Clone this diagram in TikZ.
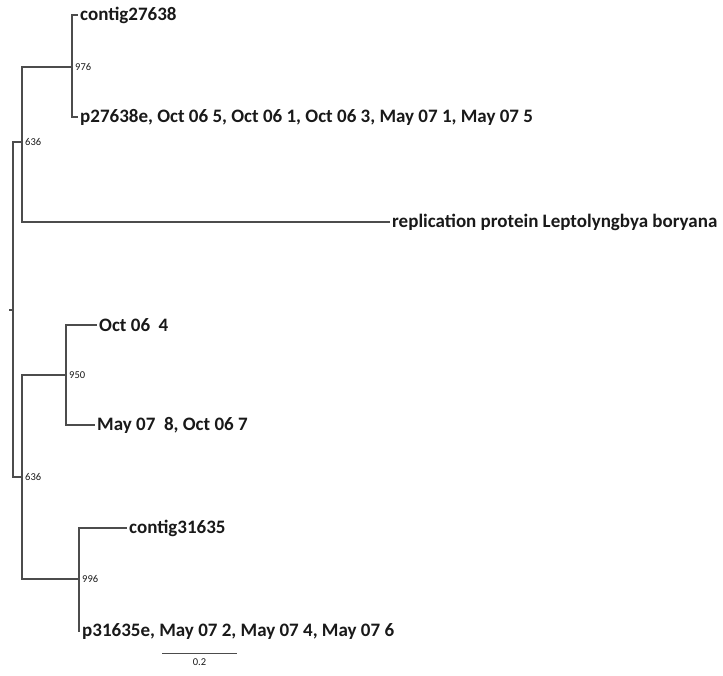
\documentclass[tikz,border=0pt]{standalone}
\usepackage{fontspec}
\setmainfont{Carlito}
\usetikzlibrary{positioning, calc}

\begin{document}
\begin{tikzpicture}[x=1pt, y=-1pt,
    every node/.style={font=\bfseries\fontsize{19}{22}\selectfont, text=black!90},
    branch/.style={line width=1.3pt, draw=black!70},
    leaf/.style={anchor=west, inner sep=2pt},
    boot/.style={anchor=west, inner sep=1pt, font=\fontsize{10.5}{12}\selectfont}]

      \useasboundingbox (0,0) rectangle (723,675);

      % internal nodes
      \coordinate (root) at (13,310);
      \coordinate (up) at (22,142);
      \coordinate (n976) at (72,67);
      \coordinate (low) at (22,477);
      \coordinate (n950) at (66,375);
      \coordinate (n996) at (79,579);
      \coordinate (rtick) at (9,310);

      % leaves
      \node[leaf] (c27638) at (78,15) {contig27638};
      \node[leaf] (p27638) at (78,117) {p27638e, Oct 06 5, Oct 06 1, Oct 06 3, May 07 1, May 07 5};
      \node[leaf] (lepto) at (390,222) {replication protein Leptolyngbya boryana};
      \node[leaf] (oct4) at (97,325) {Oct 06\ \ 4};
      \node[leaf] (may8) at (95,425) {May 07\ \ 8, Oct 06 7};
      \node[leaf] (c31635) at (127,528) {contig31635};
      \node[leaf] (p31635) at (80,631) {p31635e, May 07 2, May 07 4, May 07 6};

      % branches
      \draw[branch] (rtick) -- (root);
      \draw[branch] (root) |- (up);
      \draw[branch] (root) |- (low);
      \draw[branch] (up) |- (n976);
      \draw[branch] (up) |- (lepto.west);
      \draw[branch] (n976) |- (c27638.west);
      \draw[branch] (n976) |- (p27638.west);
      \draw[branch] (low) |- (n950);
      \draw[branch] (low) |- (n996);
      \draw[branch] (n950) |- (oct4.west);
      \draw[branch] (n950) |- (may8.west);
      \draw[branch] (n996) |- (c31635.west);
      \draw[branch] (n996) |- (p31635.west);

      % bootstrap values
      \node[boot] (b976) at ([xshift=2pt]n976) {976};
      \node[boot] (bup) at ([xshift=2pt]up) {636};
      \node[boot] (b950) at ([xshift=2pt]n950) {950};
      \node[boot] (blow) at ([xshift=2pt]low) {636};
      \node[boot] (b996) at ([xshift=2pt]n996) {996};

      % scale bar
      \coordinate (sbl) at (162,653);
      \coordinate (sbr) at (237,653);
      \coordinate (sbm) at ($(sbl)!0.5!(sbr)$);
      \draw[line width=0.8pt, draw=black!70] (sbl) -- (sbr);
      \node[boot, anchor=north] (sblab) at ([yshift=-4pt]sbm) {0.2};

    \end{tikzpicture}
\end{document}
